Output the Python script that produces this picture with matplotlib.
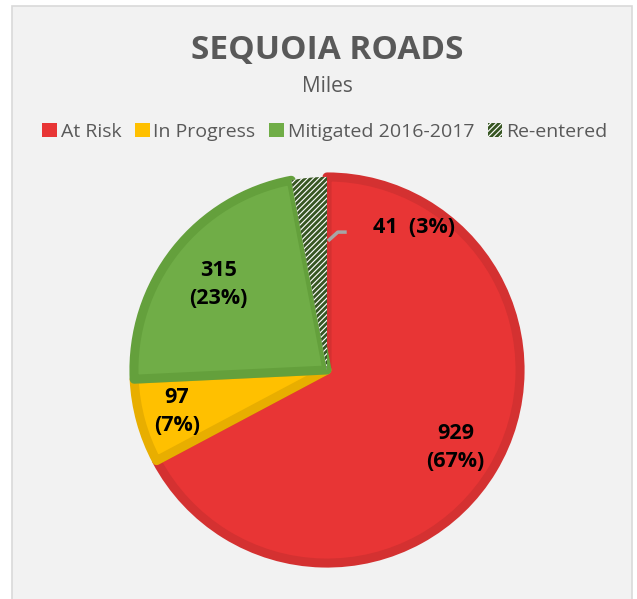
import numpy as np
import matplotlib.pyplot as plt
from matplotlib.patches import Rectangle, Patch

plt.rcParams['font.family'] = ['Open Sans', 'DejaVu Sans']
plt.rcParams['hatch.linewidth'] = 2.0

categories = ["At Risk", "In Progress", "Mitigated 2016-2017", "Re-entered"]
values = [929, 97, 315, 41]
fills = ["#E83535", "#FFC000", "#70AD47", "#FFFFFF"]
edges = ["#D43131", "#E8AE00", "#64A03C", "#FFFFFF"]
label_r = [0.76, 0.79, 0.70, None]

W, H = 637, 599
fig = plt.figure(figsize=(W/100, H/100), dpi=100)
fig.patch.set_facecolor("white")
fig.patches.append(Rectangle((12/W, -0.05), (632-12)/W, (1-6/H)+0.05, transform=fig.transFigure,
                             facecolor="#F2F2F2", edgecolor="#D9D9D9", lw=1.2, zorder=-5))

cx, cy, R = 327, 370, 197
ax = fig.add_axes([(cx-R)/W, (H-cy-R)/H, 2*R/W, 2*R/H])
ax.set_zorder(5)
ax.patch.set_visible(False)

wedges, _ = ax.pie(values, startangle=90, counterclock=False, colors=fills, radius=0.98,
                   wedgeprops=dict(linewidth=6.5, joinstyle='round'))
ax.set_xlim(-1, 1); ax.set_ylim(-1, 1)
ax.set_aspect('equal'); ax.axis('off')
for w, ec in zip(wedges, edges):
    w.set_edgecolor(ec)
wedges[3].set_hatch('//////')
wedges[3].set_edgecolor("#375623")
wedges[3].set_linewidth(0)

total = sum(values)
cum = 0
for i, v in enumerate(values):
    mid = 90 - (cum + v/2)/total*360
    cum += v
    pct = round(v/total*100)
    if label_r[i] is not None:
        r = label_r[i]
        ax.text(r*np.cos(np.radians(mid)), r*np.sin(np.radians(mid)), f"{v}\n({pct}%)",
                ha='center', va='center', fontsize=15.5, fontweight='bold', linespacing=1.45)
    else:
        ax.text(0.44, 0.725, f"{v}  ({pct}%)", ha='center', va='center',
                fontsize=15.5, fontweight='bold')
        ax.plot([0.005, 0.055, 0.10], [0.655, 0.70, 0.70], color='#A6A6A6', lw=2.5,
                solid_capstyle='butt')

fig.text(cx/W, 1-50/H, "SEQUOIA ROADS", ha='center', va='center', fontsize=24,
         fontweight='bold', color='#595959')
fig.text(cx/W, 1-87/H, "Miles", ha='center', va='center', fontsize=15, color='#595959')

handles = [Patch(facecolor=f, edgecolor='none') for f in fills[:3]]
handles.append(Patch(facecolor='white', edgecolor='#375623', hatch='//////', lw=0))
leg = fig.legend(handles, categories, loc='center', bbox_to_anchor=(0.51, 1-132/H), ncol=4,
                 frameon=False, fontsize=14, handlelength=0.75, handleheight=0.75,
                 handletextpad=0.2, columnspacing=0.7, labelcolor='#595959')

fig.savefig("out.png", dpi=100, facecolor=fig.get_facecolor())
